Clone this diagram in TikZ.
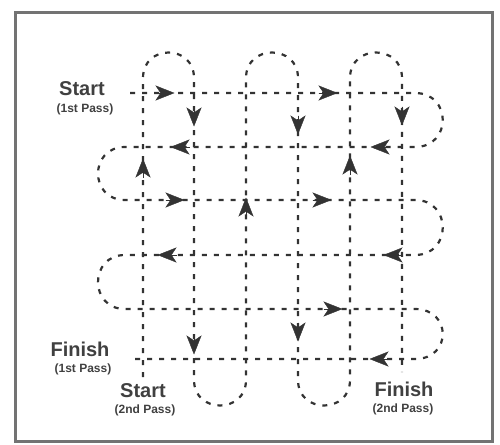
\documentclass[tikz,border=0pt]{standalone}
\usepackage{fontspec}
\setmainfont{Liberation Sans}
\usetikzlibrary{arrows.meta}
\begin{document}
\begin{tikzpicture}[x=1pt,y=-1pt,
  route/.style={draw=black!80,line width=2.2pt,dash pattern=on 5pt off 7pt},
  arrowhd/.style={draw=black!80,fill=black!80,line width=0.4pt,-{Stealth[length=19pt,width=15pt,inset=5pt]}},
  bigtext/.style={inner sep=0pt,text=black!75,font=\fontsize{20}{22}\selectfont\bfseries},
  smalltext/.style={inner sep=0pt,text=black!75,font=\fontsize{12}{14}\selectfont\bfseries},
  frame/.style={draw=black!55,line width=3pt}]
\useasboundingbox (0,0) rectangle (500,444);
\draw[frame] (15,13) rectangle (492,441);
% first pass (rows)
\draw[route] (130,93) -- (415,93)
  .. controls (452,93) and (452,147) .. (415,147) -- (125,147)
  .. controls (89,147) and (89,200) .. (125,200) -- (415,200)
  .. controls (452,200) and (452,255) .. (415,255) -- (125,255)
  .. controls (89,255) and (89,309) .. (125,309) -- (415,309)
  .. controls (452,309) and (452,359) .. (415,359) -- (130,359);
% second pass (columns)
\draw[route] (143,377) -- (143,78)
  .. controls (143,44) and (194,44) .. (194,78) -- (194,380)
  .. controls (194,414) and (246,414) .. (246,380) -- (246,78)
  .. controls (246,44) and (298,44) .. (298,78) -- (298,380)
  .. controls (298,414) and (350,414) .. (350,380) -- (350,78)
  .. controls (350,44) and (402,44) .. (402,78) -- (402,372);
% arrowheads on rows
\foreach \x/\y/\d in {165/93/1, 328/93/1, 180/147/-1, 380/147/-1, 175/200/1, 322/200/1,
                      167/255/-1, 393/255/-1, 333/309/1, 379/359/-1}
  \draw[arrowhd] (\x-9.5*\d,\y) -- (\x+9.5*\d,\y);
% arrowheads on columns
\foreach \x/\y/\d in {143/168/-1, 194/117/1, 194/345/1, 246/207/-1, 298/125/1,
                      298/332/1, 350/165/-1, 402/116/1}
  \draw[arrowhd] (\x,\y-9.5*\d) -- (\x,\y+9.5*\d);
% labels
\node[bigtext] (s1) at (82,89) {Start};
\node[smalltext] (s1p) at (85,109) {(1st Pass)};
\node[bigtext] (f1) at (80,349) {Finish};
\node[smalltext] (f1p) at (83,369) {(1st Pass)};
\node[bigtext] (s2) at (143,391) {Start};
\node[smalltext] (s2p) at (145,410) {(2nd Pass)};
\node[bigtext] (f2) at (404,389) {Finish};
\node[smalltext] (f2p) at (403,409) {(2nd Pass)};
\end{tikzpicture}
\end{document}
